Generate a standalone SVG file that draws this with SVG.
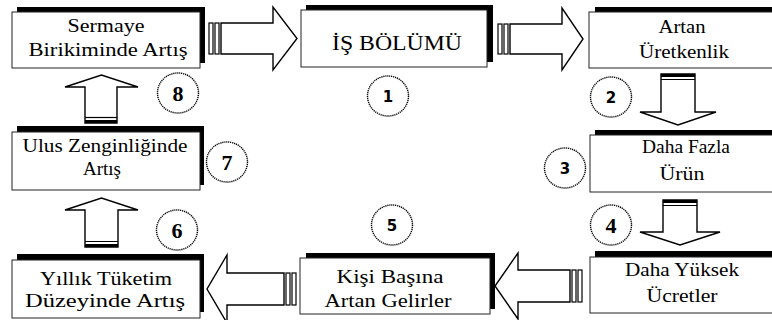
<svg xmlns="http://www.w3.org/2000/svg" width="772" height="320" viewBox="0 0 772 320">
<style>
.sh{fill:#000}
.bx{fill:#fff;stroke:#222;stroke-width:1}
.t{font-family:"Liberation Serif","Times New Roman",serif;font-size:18px;fill:#000;text-anchor:middle}
.ar{fill:#fff;stroke:#000;stroke-width:1.4;stroke-linejoin:miter}
.st{fill:#fff;stroke:#000;stroke-width:1.2}
.bk{fill:#000}
.c{fill:#fff;stroke:#000;stroke-width:1.4;stroke-dasharray:1.2 0.8}
.ns{font-family:"DejaVu Sans",Verdana,sans-serif;font-weight:bold;font-size:15px;text-anchor:middle}
.nr{font-family:"Liberation Serif","Times New Roman",serif;font-weight:bold;font-size:22px;text-anchor:middle}
</style>
<rect width="772" height="320" fill="#fff"/>
<g id="connectors">
  <g id="a1">
    <rect class="st" x="209" y="23" width="4" height="31"/>
    <rect class="st" x="215" y="23" width="4" height="31"/>
    <path class="ar" d="M221,23 H273 V7 L297,38.5 L273,70 V54 H221 Z"/>
  </g>
  <g id="a2">
    <rect class="st" x="498" y="24" width="4" height="30"/>
    <rect class="st" x="504" y="24" width="4" height="30"/>
    <path class="ar" d="M510,24 H562 V8 L583,39 L562,70 V54 H510 Z"/>
  </g>
  <g id="a3">
    <path class="ar" d="M661,74 V112 H640 L678,125 L716,112 H695 V74 Z"/>
    <rect class="bk" x="661" y="74" width="34" height="3"/>
    <line x1="661" y1="79.5" x2="695" y2="79.5" stroke="#000" stroke-width="1.2"/>
  </g>
  <g id="a4">
    <path class="ar" d="M663,200 V232 H640 L680,245 L720,232 H697 V200 Z"/>
    <rect class="bk" x="663" y="200" width="34" height="3"/>
    <line x1="663" y1="205.5" x2="697" y2="205.5" stroke="#000" stroke-width="1.2"/>
  </g>
  <g id="a5">
    <rect class="st" x="578" y="270" width="4" height="32"/>
    <rect class="st" x="572" y="270" width="4" height="32"/>
    <path class="ar" d="M570,270 H518 V253 L495,286 L518,319 V302 H570 Z"/>
  </g>
  <g id="a6">
    <rect class="st" x="292" y="273" width="4" height="32"/>
    <rect class="st" x="286" y="273" width="4" height="32"/>
    <path class="ar" d="M284,273 H227 V255 L207,289 L227,323 V305 H284 Z"/>
  </g>
  <g id="a7">
    <path class="ar" d="M85,247 V210 H65 L101.5,198 L138,210 H118 V247 Z"/>
    <rect class="bk" x="85" y="244" width="33" height="3"/>
    <line x1="85" y1="241.5" x2="118" y2="241.5" stroke="#000" stroke-width="1.2"/>
  </g>
  <g id="a8">
    <path class="ar" d="M85,123 V87 H65 L101.5,75 L138,87 H117 V123 Z"/>
    <rect class="bk" x="85" y="120" width="32" height="3"/>
    <line x1="85" y1="117.5" x2="117" y2="117.5" stroke="#000" stroke-width="1.2"/>
  </g>
</g>
<g id="n-sermaye">
  <rect class="sh" x="17" y="7" width="188" height="56"/>
  <rect class="bx" x="12" y="12" width="188" height="56"/>
  <text class="t" x="106" y="32" textLength="77" lengthAdjust="spacingAndGlyphs">Sermaye</text>
  <text class="t" x="108" y="56" textLength="159" lengthAdjust="spacingAndGlyphs">Birikiminde Artış</text>
</g>
<g id="n-isbolumu">
  <rect class="sh" x="306" y="5" width="187" height="57"/>
  <rect class="bx" x="301" y="10" width="186" height="57"/>
  <text class="t" x="397" y="50" style="font-size:21px" textLength="130" lengthAdjust="spacingAndGlyphs">İŞ BÖLÜMÜ</text>
</g>
<g id="n-artan">
  <rect class="sh" x="595" y="7" width="190" height="56"/>
  <rect class="bx" x="589" y="12" width="190" height="56"/>
  <text class="t" x="682" y="33" textLength="47" lengthAdjust="spacingAndGlyphs">Artan</text>
  <text class="t" x="684" y="58" textLength="90" lengthAdjust="spacingAndGlyphs">Üretkenlik</text>
</g>
<g id="n-dahafazla">
  <rect class="sh" x="595" y="130" width="190" height="57"/>
  <rect class="bx" x="590" y="135" width="190" height="57"/>
  <text class="t" x="686" y="153" textLength="88" lengthAdjust="spacingAndGlyphs">Daha Fazla</text>
  <text class="t" x="682" y="180" textLength="45" lengthAdjust="spacingAndGlyphs">Ürün</text>
</g>
<g id="n-dahayuksek">
  <rect class="sh" x="595" y="251" width="190" height="56"/>
  <rect class="bx" x="590" y="257" width="190" height="56"/>
  <text class="t" x="682" y="276" textLength="114" lengthAdjust="spacingAndGlyphs">Daha Yüksek</text>
  <text class="t" x="682" y="302" textLength="71" lengthAdjust="spacingAndGlyphs">Ücretler</text>
</g>
<g id="n-kisibasina">
  <rect class="sh" x="306" y="253" width="189" height="56"/>
  <rect class="bx" x="300" y="258" width="190" height="56"/>
  <text class="t" x="390" y="283" textLength="107" lengthAdjust="spacingAndGlyphs">Kişi Başına</text>
  <text class="t" x="388" y="307" textLength="127" lengthAdjust="spacingAndGlyphs">Artan Gelirler</text>
</g>
<g id="n-yillik">
  <rect class="sh" x="17" y="254" width="187" height="58"/>
  <rect class="bx" x="12" y="260" width="188" height="58"/>
  <text class="t" x="106" y="285" textLength="132" lengthAdjust="spacingAndGlyphs">Yıllık Tüketim</text>
  <text class="t" x="105" y="307" textLength="160" lengthAdjust="spacingAndGlyphs">Düzeyinde Artış</text>
</g>
<g id="n-ulus">
  <rect class="sh" x="17" y="126" width="187" height="59"/>
  <rect class="bx" x="12" y="132" width="188" height="58"/>
  <text class="t" x="105" y="152" textLength="165" lengthAdjust="spacingAndGlyphs">Ulus Zenginliğinde</text>
  <text class="t" x="102" y="175" textLength="38" lengthAdjust="spacingAndGlyphs">Artış</text>
</g>
<g id="n-c1"><ellipse class="c" cx="388" cy="96" rx="20.5" ry="20"/><text class="ns" x="388" y="101.5">1</text></g>
<g id="n-c2"><ellipse class="c" cx="611" cy="97" rx="20.5" ry="20"/><text class="ns" x="611" y="102.5">2</text></g>
<g id="n-c3"><ellipse class="c" cx="565" cy="168" rx="20.5" ry="20"/><text class="ns" x="565" y="173.5">3</text></g>
<g id="n-c4"><ellipse class="c" cx="611" cy="225" rx="20.5" ry="20"/><text class="nr" x="611" y="232.5">4</text></g>
<g id="n-c5"><ellipse class="c" cx="392" cy="225" rx="20.5" ry="20"/><text class="ns" x="392" y="230.5">5</text></g>
<g id="n-c6"><ellipse class="c" cx="177" cy="230" rx="20.5" ry="20"/><text class="nr" x="177" y="237.5">6</text></g>
<g id="n-c7"><ellipse class="c" cx="227" cy="162" rx="20.5" ry="20"/><text class="nr" x="227" y="169.5">7</text></g>
<g id="n-c8"><ellipse class="c" cx="178" cy="93" rx="20.5" ry="20"/><text class="nr" x="178" y="100.5">8</text></g>
</svg>
